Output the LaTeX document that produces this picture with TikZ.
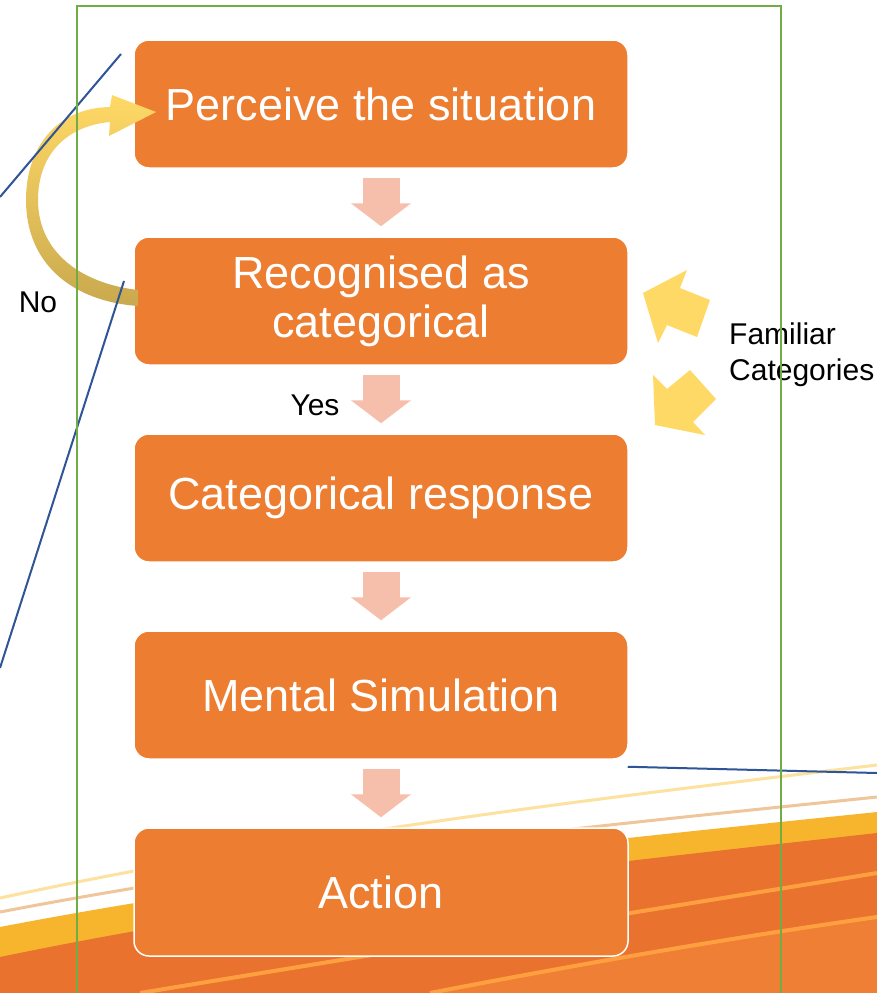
\documentclass[tikz,border=0pt]{standalone}
\usepackage{fontspec}
\setmainfont{Liberation Sans}
\usetikzlibrary{positioning,arrows.meta,calc}
\definecolor{boxorange}{HTML}{ED7D31}
\definecolor{flowpink}{HTML}{F5BFAB}
\definecolor{sunyellow}{HTML}{FFD966}
\definecolor{goldarrow}{HTML}{C9A94E}
\definecolor{lineblue}{HTML}{2F5597}
\definecolor{framegreen}{HTML}{70AD47}
\definecolor{bandyellow}{HTML}{F7B52E}
\definecolor{bandorange}{HTML}{E9722F}
\definecolor{bandlight}{HTML}{EE7F35}
\begin{document}
\begin{tikzpicture}[x=1pt, y=-1pt, node distance=67.5pt,
    stage/.style={draw=white, line width=1.5pt, fill=boxorange, rounded corners=15pt,
      minimum width=494pt, minimum height=128pt, inner sep=0pt,
      text=white, align=center, font=\fontsize{45}{49}\selectfont},
    flow/.style={draw=flowpink, line width=37pt, shorten <=9pt, shorten >=10pt,
      -{Triangle[width=59pt,length=23pt]}},
    note/.style={font=\fontsize{30}{36}\selectfont, align=left, inner sep=0pt},
    thin line/.style={draw=lineblue, line width=2pt}]
  \useasboundingbox (0,0) rectangle (877,993);

  % slide background swooshes
  \fill[white] (0,0) rectangle (877,993);
  \draw[draw=yellow!40!orange!35, line width=3pt] (0,898) .. controls (300,833.5) and (600,798.25) .. (877,765);
  \draw[draw=orange!45!brown!45, line width=3pt] (0,912) .. controls (300,854.5) and (600,825.75) .. (877,797);
  \fill[bandyellow] (0,927) .. controls (300,869.5) and (600,840.75) .. (877,812) -- (877,993) -- (0,993) -- cycle;
  \fill[bandorange] (0,957) .. controls (300,895) and (600,864) .. (877,833) -- (877,993) -- (0,993) -- cycle;
  \draw[draw=orange!75!white, line width=4pt] (140,993) .. controls (400,950) and (650,910) .. (877,873);
  \fill[bandlight] (430,993) .. controls (600,960) and (750,935) .. (877,917) -- (877,993) -- cycle;
  \draw[draw=orange!75!white, line width=4pt] (430,993) .. controls (600,960) and (750,935) .. (877,917);

  % stages
  \node[stage] (perceive) at (381,104) {Perceive the situation};
  \node[stage, below=of perceive] (recog) {Recognised as\\categorical};
  \node[stage, below=of recog] (catresp) {Categorical response};
  \node[stage, below=of catresp] (mental) {Mental Simulation};
  \node[stage, below=of mental] (action) {Action};

  % flow between stages
  \draw[flow] (perceive) -- (recog);
  \draw[flow] (recog) -- (catresp);
  \draw[flow] (catresp) -- (mental);
  \draw[flow] (mental) -- (action);

  % loop back when not recognised
  \shade[top color=sunyellow, middle color=sunyellow!60!goldarrow, bottom color=goldarrow]
    (138,306) .. controls (70,301) and (26,262) .. (26,200)
    .. controls (26,148) and (56,108) .. (110,107)
    -- (112,95) -- (156,112) -- (109,136) -- (110,122)
    .. controls (66,126) and (38,155) .. (38,200)
    .. controls (38,250) and (78,283) .. (138,290) -- cycle;

  % familiar categories exchange
  \fill[sunyellow] (643,293) -- (687,270) -- (680,288) -- (710,300) -- (697,337) -- (667,325) -- (658,343) -- cycle;
  \fill[sunyellow] (655,425) -- (653,375) -- (667,389) -- (690,370) -- (716,399) -- (693,422) -- (705,435) -- cycle;

  % labels
  \node[note] (no) at (38,302) {No};
  \node[note] (yes) at (315,405) {Yes};
  \node[note, anchor=west] (familiar) at (729,355) {Familiar\\Categories};

  % stray lines
  \coordinate (a1) at (121,54);
  \coordinate (a2) at (0,197);
  \coordinate (b1) at (124,281);
  \coordinate (b2) at (0,668);
  \coordinate (c1) at ($(mental.south east)+(-1,7)$);
  \coordinate (c2) at (877,773);
  \draw[thin line] (a1) -- (a2);
  \draw[thin line] (b1) -- (b2);
  \draw[thin line] (c1) -- (c2);

  % frame
  \draw[draw=framegreen, line width=2pt] (77,6) rectangle (781,1000);
\end{tikzpicture}
\end{document}
